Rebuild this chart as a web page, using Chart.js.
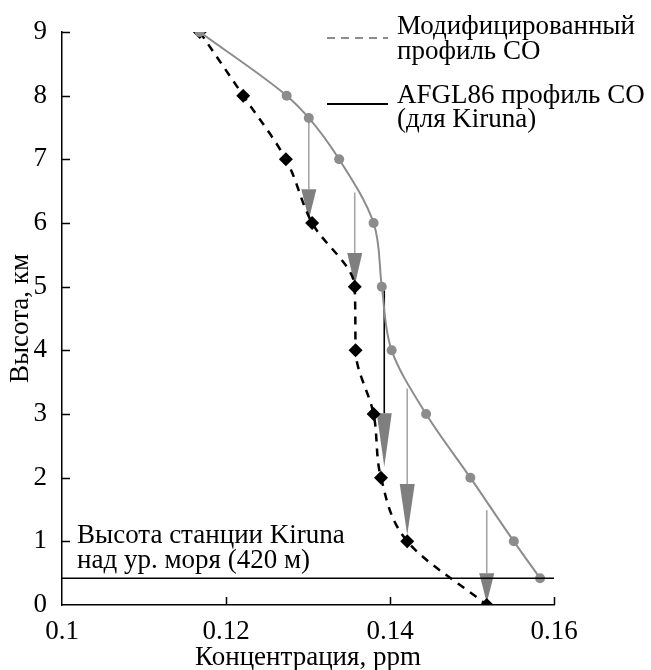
<!DOCTYPE html>
<html>
<head>
<meta charset="utf-8">
<script src="https://cdn.jsdelivr.net/npm/chart.js@4/dist/chart.umd.min.js"></script>
<style>
  html, body { margin: 0; padding: 0; background: #fff; }
  #wrap { width: 651px; height: 670px; }
</style>
</head>
<body>
<div id="wrap"><canvas id="chart" width="651" height="670"></canvas></div>
<script>
const FONT = '"Liberation Serif", "Times New Roman", serif';
const FS = 27;

// AFGL86 CO profile (grey curve, circles)
const afglX = [0.1168, 0.1274, 0.1301, 0.1338, 0.1380, 0.1390, 0.1402, 0.1444, 0.1498, 0.1551, 0.1583];
const afglY = [9, 8, 7.65, 7, 6, 5, 4, 3, 2, 1, 0.42];

// modified CO profile (dashed, diamonds)
const modX = [0.1168, 0.1221, 0.1273, 0.1305, 0.1357, 0.1358, 0.1380, 0.1389, 0.1421, 0.1518];
const modY = [9, 8, 7, 6, 5, 4, 3, 2, 1, 0];

// Kiruna station height, km
const stationX = [0.1, 0.16];
const stationY = 0.42;

// arrows: x, shaft start, head base, tip (km)
const arrowX = [0.1301, 0.1357, 0.1393, 0.1421, 0.1518];
const arrowFrom = [7.65, 6.48, 5.0, 3.4, 1.49];
const arrowHead = [6.53, 5.53, 3.01, 1.9, 0.5];
const arrowTip = [6.05, 5.02, 2.17, 1.1, 0.03];
const arrowShaft = ["#a6a6a6", "#a6a6a6", "#000", "#a6a6a6", "#a6a6a6"];

const xTickLabels = ["0.1", "0.12", "0.14", "0.16"];
const legendLabels = [["Модифицированный", "профиль CO"], ["AFGL86 профиль CO", "(для Kiruna)"]];
const stationLabel = ["Высота станции Kiruna", "над ур. моря (420 м)"];

const pts = (xs, ys) => xs.map((x, i) => ({ x, y: Array.isArray(ys) ? ys[i] : ys }));

// arrows under the markers
const arrowsPlugin = {
  id: "arrows",
  beforeDatasetsDraw(chart) {
    const { ctx, scales: { x, y } } = chart;
    ctx.save();
    arrowX.forEach((v, i) => {
      const px = x.getPixelForValue(v);
      const y0 = y.getPixelForValue(arrowFrom[i]);
      const yb = y.getPixelForValue(arrowHead[i]);
      const yt = y.getPixelForValue(arrowTip[i]);
      ctx.strokeStyle = arrowShaft[i];
      ctx.lineWidth = 1.6;
      ctx.beginPath(); ctx.moveTo(px, y0); ctx.lineTo(px, yb); ctx.stroke();
      ctx.fillStyle = "#7f7f7f";
      ctx.beginPath();
      ctx.moveTo(px - 7.5, yb); ctx.lineTo(px + 7.5, yb); ctx.lineTo(px, yt);
      ctx.closePath(); ctx.fill();
    });
    ctx.restore();
  },
};

// inward tick marks, legend and station label
const decorPlugin = {
  id: "decor",
  afterDraw(chart) {
    const { ctx, chartArea: a, scales: { x, y } } = chart;
    ctx.save();
    ctx.strokeStyle = "#000";
    ctx.lineWidth = 1.5;
    ctx.beginPath();
    y.ticks.forEach((t) => {
      if (t.value === 0) return;
      const py = Math.round(y.getPixelForValue(t.value)) + 0.5;
      ctx.moveTo(a.left, py); ctx.lineTo(a.left + 8, py);
    });
    x.ticks.forEach((t) => {
      if (t.value <= 0.1001) return;
      const px = Math.round(x.getPixelForValue(t.value)) + 0.5;
      ctx.moveTo(px, a.bottom); ctx.lineTo(px, a.bottom - 8);
    });
    ctx.stroke();

    // legend
    ctx.font = FS + "px " + FONT;
    ctx.fillStyle = "#000";
    ctx.textBaseline = "alphabetic";
    ctx.lineWidth = 2;
    ctx.strokeStyle = "#8c8c8c";
    ctx.setLineDash([8, 6]);
    ctx.beginPath(); ctx.moveTo(327, 38); ctx.lineTo(388, 38); ctx.stroke();
    ctx.setLineDash([]);
    ctx.strokeStyle = "#000";
    ctx.beginPath(); ctx.moveTo(327, 104); ctx.lineTo(388, 104); ctx.stroke();
    ctx.fillText(legendLabels[0][0], 397, 34);
    ctx.fillText(legendLabels[0][1], 397, 59);
    ctx.fillText(legendLabels[1][0], 397, 103);
    ctx.fillText(legendLabels[1][1], 397, 127);

    // station label
    ctx.fillText(stationLabel[0], a.left + 15, 543);
    ctx.fillText(stationLabel[1], a.left + 15, 568);
    ctx.restore();
  },
};

new Chart(document.getElementById("chart"), {
  type: "scatter",
  data: {
    datasets: [
      {
        label: "station",
        data: pts(stationX, stationY),
        showLine: true, borderColor: "#000", borderWidth: 1.5, pointRadius: 0,
      },
      {
        label: "AFGL86 профиль CO",
        data: pts(afglX, afglY),
        showLine: true, cubicInterpolationMode: "monotone", borderColor: "#8c8c8c", borderWidth: 2,
        pointRadius: 5, pointBackgroundColor: "#8c8c8c", pointBorderWidth: 0,
      },
      {
        label: "Модифицированный профиль CO",
        data: pts(modX, modY),
        showLine: true, cubicInterpolationMode: "monotone", borderColor: "#000", borderWidth: 2.5,
        borderDash: [8, 7],
        pointStyle: "rectRot", pointRadius: 7, pointBackgroundColor: "#000", pointBorderWidth: 0,
      },
    ],
  },
  options: {
    indexAxis: "y", // profiles are functions of height
    responsive: false,
    animation: false,
    devicePixelRatio: 1,
    layout: { padding: { top: 32, right: 97, left: 0, bottom: 0 } },
    plugins: { legend: { display: false }, tooltip: { enabled: false } },
    scales: {
      x: {
        type: "linear", min: 0.1, max: 0.16,
        grid: { display: false },
        border: { color: "#000", width: 1.5 },
        ticks: {
          stepSize: 0.02, autoSkip: false, maxRotation: 0, padding: 3,
          color: "#000", font: { family: FONT, size: FS },
          callback: (v) => xTickLabels.find((s) => Math.abs(+s - v) < 1e-6) || "",
        },
        title: {
          display: true, text: "Концентрация, ppm", color: "#000",
          font: { family: FONT, size: FS, lineHeight: 0.9 }, padding: { top: 0, bottom: 0 },
        },
        afterFit: (s) => { s.height = 65; },
      },
      y: {
        type: "linear", min: 0, max: 9,
        grid: { display: false },
        border: { color: "#000", width: 1.5 },
        ticks: {
          stepSize: 1, padding: 7, color: "#000", font: { family: FONT, size: FS },
        },
        title: {
          display: true, text: "Высота, км", color: "#000",
          font: { family: FONT, size: FS }, padding: { top: 5, bottom: 0 },
        },
        afterFit: (s) => { s.width = 62; },
      },
    },
  },
  plugins: [arrowsPlugin, decorPlugin],
});
</script>
</body>
</html>
